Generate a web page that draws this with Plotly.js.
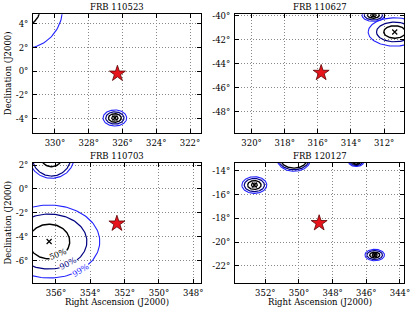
<!DOCTYPE html>
<html><head><meta charset="utf-8">
<script src="https://cdn.plot.ly/plotly-3.0.1.min.js"></script>
<style>html,body{margin:0;padding:0;background:#fff}</style>
</head><body><div id="chart" style="width:415px;height:312px"></div>
<script>
// ---- data ----
const panelTitles = ['FRB 110523', 'FRB 110627', 'FRB 110703', 'FRB 120127'];
const raTicks  = [[330,328,326,324,322],[320,318,316,314,312],[356,354,352,350,348],[352,350,348,346,344]];
const decTicks = [[4,2,0,-2,-4],[-40,-42,-44,-46,-48],[2,0,-2,-4,-6],[-14,-16,-18,-20,-22]];
const raRange  = [[331.3,321.35],[321.0,310.8],[357.34,347.55],[353.8,343.76]];
const decRange = [[-5.22,4.82],[-49.75,-39.88],[-7.87,2.17],[-23.43,-13.35]];

// FRB positions (red stars)
const frbRA  = [326.3, 315.8, 352.45, 348.8];
const frbDec = [-0.2, -44.75, -2.9, -18.4];

// beam localisation centres
const beamPanel = [0, 0, 1, 1, 2, 2, 3, 3, 3, 3];
const beamRA    = [326.45, 331.9, 312.65, 311.36, 356.4, 356.26, 352.65, 350.3, 346.6, 345.5];
const beamDec   = [-3.95, 5.3, -39.95, -41.35, -4.4, 2.7, -15.2, -13.0, -13.25, -21.08];
// contour semi-axes (deg) for levels: core, 50%, 90%, 99%  (null = not drawn)
const ringLevels = ['core', '50%', '90%', '99%'];
const ringRA = [
  [0.19, 0.38, 0.54, 0.70],
  [null, 1.02, null, 2.35],
  [0.17, 0.36, 0.55, 0.68],
  [null, 0.66, 1.10, 1.60],
  [null, 1.20, 2.20, 2.95],
  [null, 0.63, 1.13, 1.32],
  [0.18, 0.40, 0.60, 0.74],
  [null, 0.80, 0.92, 1.00],
  [0.12, 0.25, 0.36, 0.45],
  [0.15, 0.30, 0.46, 0.58]
];
const ringDec = [
  [0.18, 0.36, 0.52, 0.68],
  [null, 1.48, null, 3.40],
  [0.13, 0.26, 0.40, 0.52],
  [null, 0.52, 0.82, 1.18],
  [null, 1.45, 2.30, 3.05],
  [null, 0.84, 1.62, 1.81],
  [0.17, 0.37, 0.55, 0.70],
  [null, 0.78, 0.92, 1.05],
  [0.10, 0.22, 0.32, 0.40],
  [0.12, 0.25, 0.38, 0.48]
];
const ringColors = ['#000000', '#000000', '#000080', '#2222ff'];
const ringWidths = [1.2, 1.4, 1.2, 1.1];

// contour labels in panel FRB 110703
const labelText  = ['50%', '90%', '99%'];
const labelRA    = [355.9, 355.28, 354.56];
const labelDec   = [-5.47, -6.23, -6.85];
const labelAngle = [-22, -27, -32];
const labelColor = ['#000000', '#000080', '#2222ff'];

// ---- build figure ----
const FONT = 'DejaVu Serif';
const W = 415, H = 312;
const xDom = [[33/W, 201/W], [235/W, 404/W], [33/W, 201/W], [235/W, 404/W]];
const yDom = [[1-133/H, 1-14.3/H], [1-133/H, 1-14.3/H], [1-283/H, 1-163/H], [1-283/H, 1-163/H]];
const ax = i => (i === 0 ? '' : String(i + 1));
const fmt = v => String(v) + '\u00b0';

const traces = [];
const N = 160;
for (let b = 0; b < beamRA.length; b++) {
  const p = beamPanel[b];
  for (let k = 0; k < ringLevels.length; k++) {
    const rx = ringRA[b][k], ry = ringDec[b][k];
    if (rx == null) continue;
    const xs = [], ys = [];
    for (let i = 0; i <= N; i++) {
      const t = 2 * Math.PI * i / N;
      xs.push(beamRA[b] + rx * Math.cos(t));
      ys.push(beamDec[b] + ry * Math.sin(t));
    }
    traces.push({type: 'scatter', mode: 'lines', x: xs, y: ys,
      xaxis: 'x' + ax(p), yaxis: 'y' + ax(p),
      line: {color: ringColors[k], width: ringWidths[k]},
      hoverinfo: 'skip', showlegend: false});
  }
}
// beam centre crosses and FRB stars
for (let p = 0; p < 4; p++) {
  const idx = beamPanel.map((q, i) => q === p ? i : -1).filter(i => i >= 0);
  traces.push({type: 'scatter', mode: 'markers',
    x: idx.map(i => beamRA[i]), y: idx.map(i => beamDec[i]),
    xaxis: 'x' + ax(p), yaxis: 'y' + ax(p),
    marker: {symbol: 'x-thin-open', size: 5, line: {color: '#000', width: 1.2}, color: '#000'},
    hoverinfo: 'skip', showlegend: false});
  traces.push({type: 'scatter', mode: 'markers',
    x: [frbRA[p]], y: [frbDec[p]],
    xaxis: 'x' + ax(p), yaxis: 'y' + ax(p),
    marker: {symbol: 'star', size: 12, color: '#e8141c', line: {color: '#5a0000', width: 0.8}},
    hoverinfo: 'skip', showlegend: false});
}

const layout = {
  width: W, height: H, autosize: false,
  margin: {l: 0, r: 0, t: 0, b: 0, pad: 0},
  paper_bgcolor: '#fff', plot_bgcolor: '#fff',
  showlegend: false,
  font: {family: FONT, size: 8.5, color: '#000'},
  annotations: []
};
for (let p = 0; p < 4; p++) {
  const common = {
    showline: true, mirror: 'ticks', linecolor: '#000', linewidth: 1,
    ticks: 'inside', ticklen: 4, tickwidth: 1, tickcolor: '#000',
    showgrid: true, gridcolor: '#888', griddash: '1px,2px', gridwidth: 1,
    zeroline: false, fixedrange: true, tickmode: 'array',
    tickfont: {family: FONT, size: 8.5, color: '#000'}
  };
  layout['xaxis' + ax(p)] = Object.assign({}, common, {
    domain: xDom[p], anchor: 'y' + ax(p), range: raRange[p], autorange: false,
    tickvals: raTicks[p], ticktext: raTicks[p].map(fmt), ticklabelstandoff: 2
  });
  layout['yaxis' + ax(p)] = Object.assign({}, common, {
    domain: yDom[p], anchor: 'x' + ax(p), range: decRange[p], autorange: false,
    tickvals: decTicks[p], ticktext: decTicks[p].map(fmt), ticklabelstandoff: 2
  });
  layout.annotations.push({text: panelTitles[p], xref: 'paper', yref: 'paper',
    x: (xDom[p][0] + xDom[p][1]) / 2, y: yDom[p][1] + 7/H, xanchor: 'center', yanchor: 'middle',
    showarrow: false, font: {family: FONT, size: 8.5, color: '#000'}});
}
[0, 2].forEach(p => layout.annotations.push({text: 'Declination (J2000)', xref: 'paper', yref: 'paper',
  x: 7.5/W, y: (yDom[p][0] + yDom[p][1]) / 2, xanchor: 'center', yanchor: 'middle', textangle: -90,
  showarrow: false, font: {family: FONT, size: 8.5, color: '#000'}}));
[2, 3].forEach(p => layout.annotations.push({text: 'Right Ascension (J2000)', xref: 'paper', yref: 'paper',
  x: (xDom[p][0] + xDom[p][1]) / 2, y: 1 - 301.5/H, xanchor: 'center', yanchor: 'middle',
  showarrow: false, font: {family: FONT, size: 8.5, color: '#000'}}));
for (let i = 0; i < labelText.length; i++) {
  layout.annotations.push({text: labelText[i], xref: 'x3', yref: 'y3', x: labelRA[i], y: labelDec[i],
    textangle: labelAngle[i], showarrow: false, bgcolor: '#fff', borderpad: 0,
    font: {family: FONT, size: 8, color: labelColor[i]}});
}

Plotly.newPlot('chart', traces, layout, {staticPlot: true, displayModeBar: false});
</script></body></html>
